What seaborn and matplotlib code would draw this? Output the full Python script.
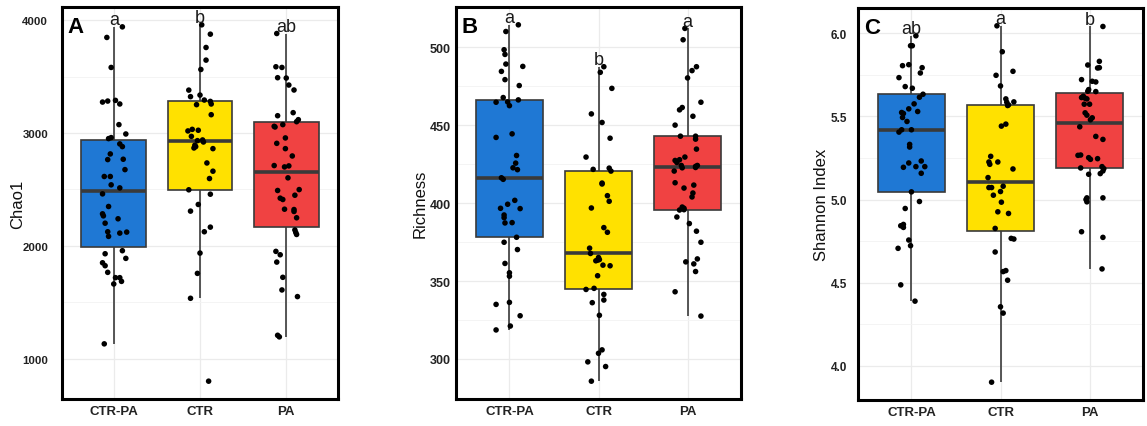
import numpy as np
import pandas as pd
import matplotlib
matplotlib.use("Agg")
import matplotlib.pyplot as plt
from matplotlib.ticker import MultipleLocator, FormatStrFormatter
import seaborn as sns

# ---------------- data ----------------
groups = ["CTR-PA", "CTR", "PA"]
box_colors = ["#1F78D4", "#FFE100", "#F04242"]

chao1_ctrpa = [3941, 3847, 3581, 3274, 3283, 3289, 3257, 3074, 2991, 2959, 2950, 2903, 2879, 2814,
               2764, 2767, 2675, 2614, 2614, 2540, 2513, 2460, 2348, 2283, 2265, 2239, 2200, 2124,
               2083, 2112, 2121, 1929, 1956, 1849, 1823, 1888, 1764, 1717, 1717, 1684, 1661, 1130]
chao1_ctrpa_dx = [0.10, -0.08, -0.03, -0.13, -0.07, 0.02, 0.07, 0.06, 0.14, -0.03, -0.06, 0.07, 0.10, -0.04,
                  -0.07, 0.11, 0.13, -0.11, -0.04, -0.03, 0.07, -0.13, -0.06, -0.13, -0.12, 0.05, -0.10, -0.07,
                  -0.06, 0.07, 0.15, -0.10, 0.10, -0.13, -0.10, 0.14, -0.07, 0.02, 0.07, 0.09, 0.00, -0.11]
chao1_ctr = [3959, 3876, 3758, 3646, 3563, 3380, 3322, 3336, 3292, 3280, 3257, 3251, 3162, 3018, 3032,
             3024, 2970, 2932, 2938, 2920, 2891, 2867, 2879, 2861, 2734, 2661, 2596, 2496, 2457, 2366,
             2307, 2124, 2165, 1935, 1755, 1534, 799]
chao1_ctr_dx = [0.02, 0.12, 0.07, 0.07, 0.01, -0.13, -0.11, 0.00, 0.05, 0.12, 0.13, -0.04, 0.13, -0.14, -0.09,
                -0.02, -0.10, -0.03, 0.03, 0.04, -0.06, -0.07, -0.05, 0.15, 0.08, 0.15, 0.11, -0.13, 0.12, -0.02,
                -0.11, 0.05, 0.12, 0.00, -0.03, -0.11, 0.10]
chao1_pa = [3882, 3587, 3581, 3490, 3487, 3425, 3381, 3153, 3180, 3118, 3100, 3059, 3053, 3074, 2956,
            2908, 2861, 2796, 2711, 2699, 2708, 2602, 2490, 2498, 2422, 2410, 2448, 2324, 2321, 2304,
            2248, 2140, 2118, 2100, 1950, 1920, 1855, 1720, 1608, 1549, 1206, 1192]
chao1_pa_dx = [-0.11, -0.12, -0.05, -0.10, 0.00, 0.03, 0.09, -0.10, 0.08, 0.14, 0.12, -0.14, -0.13, -0.04, -0.01,
               -0.11, -0.01, 0.07, -0.14, -0.02, 0.03, 0.02, -0.10, 0.15, -0.07, -0.04, 0.10, -0.02, 0.09, 0.09,
               0.12, 0.10, 0.11, 0.12, -0.12, -0.07, -0.11, -0.04, -0.05, 0.13, -0.10, -0.08]

rich_ctrpa = [514.5, 510.2, 498.5, 495.5, 489.3, 487.8, 484.6, 479.3, 475.5, 467.8, 464.8, 465.0, 462.6, 466.3,
              442.2, 444.5, 430.6, 425.7, 422.7, 421.5, 416.3, 415.3, 401.8, 399.3, 396.7, 396.5, 392.4, 390.7,
              387.3, 387.5, 374.9, 378.1, 370.2, 361.3, 355.3, 353.1, 335.0, 336.3, 327.7, 318.6, 321.1]
rich_ctrpa_dx = [0.10, -0.04, -0.06, -0.05, -0.04, 0.15, -0.09, -0.05, 0.11, -0.07, -0.15, -0.02, 0.00, 0.10,
                 -0.15, 0.03, 0.08, 0.07, 0.04, 0.09, -0.09, -0.07, 0.06, -0.02, -0.10, 0.12, -0.06, -0.06,
                 -0.05, 0.03, -0.06, 0.08, 0.09, -0.05, 0.00, 0.00, -0.15, 0.00, 0.12, -0.15, 0.01]
rich_ctr = [487.6, 484.0, 473.7, 457.3, 451.8, 441.7, 429.6, 421.7, 422.5, 420.6, 412.9, 412.3, 404.8, 401.2,
            396.9, 384.3, 381.3, 371.1, 367.7, 365.1, 363.8, 363.0, 363.4, 360.2, 359.8, 353.4, 344.6, 345.3,
            341.4, 337.8, 336.1, 328.0, 305.8, 303.6, 298.1, 295.1, 285.7]
rich_ctr_dx = [0.06, 0.02, 0.15, -0.08, 0.04, 0.13, -0.14, -0.06, 0.12, 0.14, 0.04, 0.04, 0.10, 0.12,
               -0.08, 0.06, 0.10, -0.10, -0.09, 0.00, 0.01, -0.03, -0.01, 0.05, 0.13, -0.01, -0.14, -0.05,
               0.06, 0.06, -0.07, 0.01, 0.04, 0.00, -0.12, 0.08, -0.08]
rich_pa = [512.2, 504.9, 485.1, 487.6, 480.4, 464.8, 459.9, 461.4, 455.8, 450.1, 443.0, 443.0, 441.1, 434.7,
           429.6, 427.4, 427.9, 426.1, 424.2, 422.7, 420.6, 423.6, 424.2, 422.9, 413.1, 411.6, 409.7, 406.5,
           404.0, 395.6, 397.5, 396.7, 395.8, 391.1, 386.9, 382.0, 374.9, 364.2, 362.3, 361.0, 356.1, 343.1, 327.5]
rich_pa_dx = [-0.03, -0.05, 0.05, 0.10, 0.00, 0.15, -0.09, -0.06, 0.06, -0.14, -0.08, 0.09, 0.09, 0.10,
              -0.03, -0.14, -0.09, -0.12, -0.07, -0.06, -0.15, 0.09, 0.11, 0.09, -0.14, 0.07, -0.04, 0.06,
              0.05, -0.09, -0.06, -0.04, -0.04, -0.12, 0.02, 0.10, 0.15, 0.11, -0.02, 0.07, 0.09, -0.14, 0.15]

shan_ctrpa = [5.986, 5.926, 5.926, 5.806, 5.812, 5.794, 5.762, 5.734, 5.680, 5.670, 5.634, 5.616, 5.576, 5.546,
              5.530, 5.524, 5.518, 5.494, 5.470, 5.406, 5.420, 5.420, 5.332, 5.316, 5.194, 5.220, 5.198, 5.232,
              5.198, 5.158, 5.046, 4.988, 4.946, 4.842, 4.850, 4.832, 4.756, 4.706, 4.722, 4.486, 4.388]
shan_ctrpa_dx = [0.05, -0.01, 0.01, -0.10, -0.03, 0.12, 0.10, -0.14, -0.07, 0.01, 0.13, 0.09, 0.03, -0.03,
                 0.07, -0.11, -0.09, -0.10, -0.05, -0.14, -0.11, 0.00, -0.02, -0.02, -0.09, -0.03, 0.05, 0.11,
                 0.15, 0.11, 0.00, 0.09, -0.07, -0.12, -0.09, -0.09, -0.03, -0.15, -0.01, -0.12, 0.04]
shan_ctr = [6.046, 5.890, 5.748, 5.772, 5.684, 5.606, 5.586, 5.570, 5.588, 5.566, 5.442, 5.454, 5.260, 5.226,
            5.212, 5.226, 5.184, 5.132, 5.080, 5.072, 5.072, 5.048, 5.026, 4.984, 4.926, 4.916, 4.826, 4.766,
            4.762, 4.684, 4.566, 4.572, 4.514, 4.354, 4.316, 3.900]
shan_ctr_dx = [-0.04, 0.02, -0.05, 0.14, 0.00, 0.06, 0.07, 0.09, 0.15, 0.08, 0.01, 0.06, -0.11, -0.13,
               -0.12, -0.03, 0.14, -0.14, 0.03, -0.13, -0.10, 0.00, -0.08, 0.01, -0.03, 0.09, -0.06, 0.12,
               0.15, -0.06, 0.03, 0.06, 0.08, 0.00, 0.03, -0.10]
shan_pa = [6.042, 5.832, 5.810, 5.792, 5.794, 5.722, 5.712, 5.708, 5.662, 5.652, 5.650, 5.614, 5.622, 5.610,
           5.606, 5.574, 5.574, 5.522, 5.508, 5.492, 5.480, 5.438, 5.380, 5.362, 5.266, 5.268, 5.252, 5.242,
           5.246, 5.190, 5.198, 5.186, 5.172, 5.156, 5.152, 5.010, 5.000, 4.986, 5.010, 4.806, 4.772, 4.582]
shan_pa_dx = [0.15, 0.11, -0.02, 0.09, 0.11, -0.09, 0.03, 0.07, -0.01, -0.02, 0.07, -0.09, -0.07, -0.05,
              -0.03, -0.06, 0.00, -0.05, -0.03, 0.03, 0.01, -0.11, 0.07, 0.15, -0.13, -0.10, -0.01, 0.01,
              0.09, -0.10, 0.14, 0.16, 0.15, 0.12, -0.01, -0.03, -0.04, -0.03, 0.15, -0.09, 0.15, 0.14]

chao1_letters = ["a", "b", "ab"]
rich_letters = ["a", "b", "a"]
shan_letters = ["ab", "a", "b"]

chao1_ticks = [1000, 2000, 3000, 4000]
rich_ticks = [300, 350, 400, 450, 500]
shan_ticks = [4.0, 4.5, 5.0, 5.5, 6.0]

panels = [
    dict(tag="A", ylabel="Chao1", vals=[chao1_ctrpa, chao1_ctr, chao1_pa],
         dx=[chao1_ctrpa_dx, chao1_ctr_dx, chao1_pa_dx], letters=chao1_letters,
         ticks=chao1_ticks, minor=500, fmt="%d", rect=[62, 8, 338, 400], pad=10, ytsize=8.2, labx=18),
    dict(tag="B", ylabel="Richness", vals=[rich_ctrpa, rich_ctr, rich_pa],
         dx=[rich_ctrpa_dx, rich_ctr_dx, rich_pa_dx], letters=rich_letters,
         ticks=rich_ticks, minor=25, fmt="%d", rect=[456, 8, 741, 400], pad=3.8, ytsize=9, labx=420),
    dict(tag="C", ylabel="Shannon Index", vals=[shan_ctrpa, shan_ctr, shan_pa],
         dx=[shan_ctrpa_dx, shan_ctr_dx, shan_pa_dx], letters=shan_letters,
         ticks=shan_ticks, minor=0.25, fmt="%.1f", rect=[858, 9, 1143, 401], pad=8, ytsize=8.5, labx=822),
]

# ---------------- figure ----------------
sns.set_theme(style="white")
plt.rcParams["font.family"] = ["Liberation Sans", "DejaVu Sans"]

W, H = 1147, 427
fig = plt.figure(figsize=(W / 100, H / 100), dpi=100)

for p in panels:
    x0, y0, x1, y1 = p["rect"]
    ax = fig.add_axes([x0 / W, (H - y1) / H, (x1 - x0) / W, (y1 - y0) / H])

    rows = []
    for gi, g in enumerate(groups):
        for v, d in zip(p["vals"][gi], p["dx"][gi]):
            rows.append({"group": g, "value": v, "xpos": gi + d})
    df = pd.DataFrame(rows)

    sns.boxplot(data=df, x="group", y="value", hue="group", order=groups, hue_order=groups,
                palette=box_colors, saturation=1, width=0.75, showfliers=False, showcaps=False,
                linecolor="#3a3a3a", linewidth=1.2, legend=False, whis=1.5,
                medianprops=dict(linewidth=2.6, color="#3a3a3a"), ax=ax, zorder=2)
    sns.scatterplot(data=df, x="xpos", y="value", color="black", s=16, edgecolor="none",
                    legend=False, ax=ax, zorder=4)

    # significance letters
    for gi, g in enumerate(groups):
        top = max(p["vals"][gi])
        ax.annotate(p["letters"][gi], xy=(gi, top), xytext=(0, 2), textcoords="offset points",
                    ha="center", va="baseline", fontsize=13, color="#1a1a1a", zorder=5)

    # limits like ggplot (5% expansion)
    allv = df["value"].to_numpy()
    rng = allv.max() - allv.min()
    ax.set_ylim(allv.min() - 0.05 * rng, allv.max() + 0.05 * rng)
    ax.set_xlim(-0.6, 2.6)

    ax.set_yticks(p["ticks"])
    ax.yaxis.set_major_formatter(FormatStrFormatter(p["fmt"]))
    ax.yaxis.set_minor_locator(MultipleLocator(p["minor"]))
    ax.set_xticks(range(len(groups)))
    ax.set_xticklabels(groups)

    ax.grid(True, which="major", color="#EBEBEB", linewidth=0.9, zorder=0)
    ax.grid(True, which="minor", axis="y", color="#F3F3F3", linewidth=0.6, zorder=0)
    ax.set_axisbelow(True)

    ax.tick_params(axis="both", which="both", length=0)
    ax.tick_params(axis="y", pad=p["pad"])
    ax.tick_params(axis="x", pad=4)
    for lab in ax.get_xticklabels():
        lab.set_fontweight("bold")
        lab.set_fontsize(9.5)
        lab.set_color("#222222")
    for lab in ax.get_yticklabels():
        lab.set_fontweight("bold")
        lab.set_fontsize(p["ytsize"])
        lab.set_color("#222222")

    ax.set_xlabel("")
    ax.set_ylabel(p["ylabel"], fontsize=12, color="#111111")
    ax.yaxis.set_label_coords((p["labx"] - x0) / (x1 - x0), 0.5)
    ax.yaxis.label.set_verticalalignment("center")

    for sp in ax.spines.values():
        sp.set_visible(True)
        sp.set_color("black")
        sp.set_linewidth(2.2)

    ax.text(0.048, 0.95, p["tag"], transform=ax.transAxes, ha="center", va="center",
            fontsize=16, fontweight="bold", color="black", zorder=6)

fig.savefig("out.png", dpi=100)
